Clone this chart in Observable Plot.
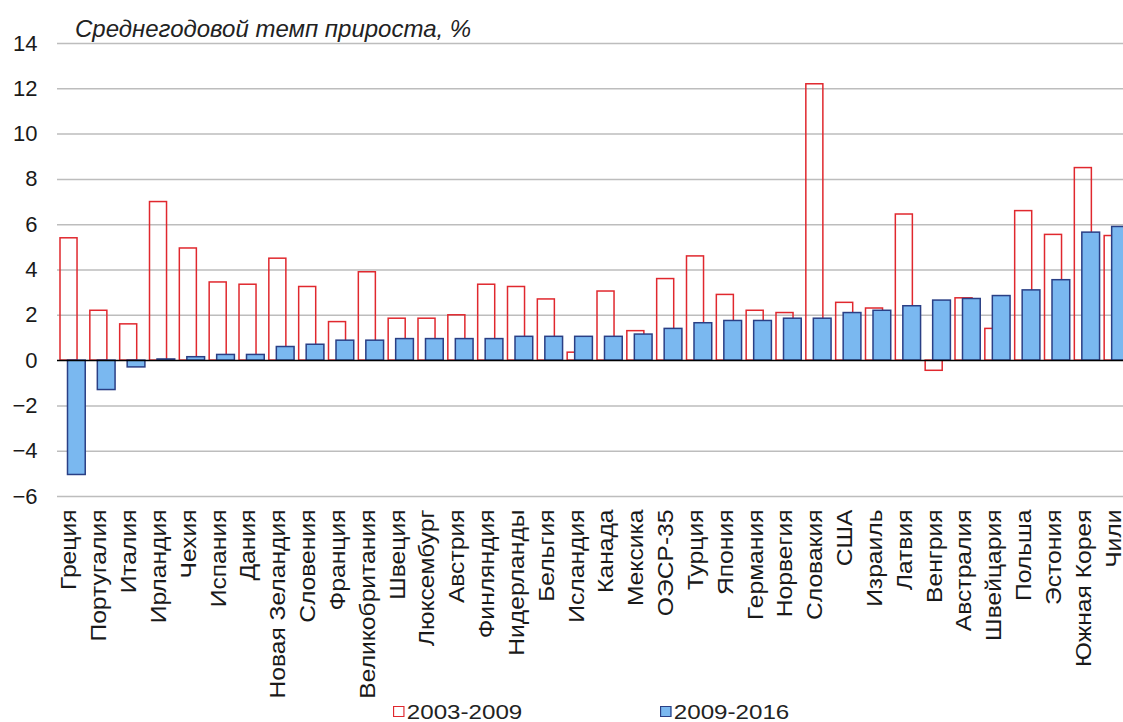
<!DOCTYPE html>
<html><head><meta charset="utf-8">
<script src="https://cdn.jsdelivr.net/npm/d3@7"></script>
<script src="https://cdn.jsdelivr.net/npm/@observablehq/plot@0.6"></script>
<style>
body{margin:0;background:#fff;font-family:"Liberation Sans",Arial,sans-serif;}
#wrap{position:relative;width:1123px;height:722px;overflow:hidden;background:#fff;}
#title{position:absolute;left:75px;top:15px;font-style:italic;font-size:24px;color:#222;white-space:nowrap;}
.leg{position:absolute;top:701px;font-size:21px;line-height:21px;color:#222;display:flex;align-items:center;white-space:nowrap;transform:scaleX(1.15);transform-origin:left center;}
.sw{display:inline-block;width:10px;height:11px;margin-right:2px;box-sizing:border-box;}
</style></head><body>
<div id="wrap">
<div id="chart"></div>
<div id="title">Среднегодовой темп прироста, %</div>
<div class="leg" style="left:393px"><span class="sw" style="border:1.5px solid #e0282e;background:#fff"></span>2003-2009</div>
<div class="leg" style="left:660px"><span class="sw" style="border:1.5px solid #2a3f85;background:#7ab8f0"></span>2009-2016</div>
</div>
<script>
const countries = ["Греция","Португалия","Италия","Ирландия","Чехия","Испания","Дания","Новая Зеландия","Словения","Франция","Великобритания","Швеция","Люксембург","Австрия","Финляндия","Нидерланды","Бельгия","Исландия","Канада","Мексика","ОЭСР-35","Турция","Япония","Германия","Норвегия","Словакия","США","Израиль","Латвия","Венгрия","Австралия","Швейцария","Польша","Эстония","Южная Корея","Чили"];
const series = ["2003-2009","2009-2016"];
const v0309 = [5.4,2.2,1.6,7.0,4.95,3.45,3.35,4.5,3.25,1.7,3.9,1.85,1.85,2.0,3.35,3.25,2.7,0.35,3.05,1.3,3.6,4.6,2.9,2.2,2.1,12.2,2.55,2.3,6.45,-0.45,2.75,1.4,6.6,5.55,8.5,5.5];
const v0916 = [-5.05,-1.3,-0.3,0.05,0.15,0.25,0.25,0.6,0.7,0.88,0.88,0.95,0.95,0.95,0.95,1.05,1.05,1.05,1.05,1.15,1.4,1.65,1.75,1.75,1.85,1.85,2.1,2.2,2.4,2.65,2.72,2.85,3.1,3.55,5.65,5.9];
const yTicks = [-6,-4,-2,0,2,4,6,8,10,12,14];

const data = countries.map((c,i)=>({country:c, a:v0309[i], b:v0916[i]}));

const chart = Plot.plot({
  width:1123, height:690,
  marginLeft:57, marginRight:0, marginTop:43, marginBottom:194,
  x:{domain:countries, range:[57,1131], padding:0, round:false, label:null},
  y:{domain:[-6,14], label:null},
  style:{fontFamily:"'Liberation Sans', Arial, sans-serif", fontSize:"22px", color:"#1a1a1a", background:"transparent", overflow:"visible"},
  marks:[
    Plot.ruleY(yTicks.filter(d=>d!==0), {stroke:"#bdbdbd", strokeWidth:1.5}),
    Plot.barY(data,{x:"country", y:"a", fill:"none", stroke:"#e0282e", strokeWidth:1.5, insetLeft:3, insetRight:9.8}),
    Plot.barY(data,{x:"country", y:"b", fill:"#7ab8f0", stroke:"#2a3f85", strokeWidth:1.5, insetLeft:10.5, insetRight:1.6}),
    Plot.ruleY([0],{stroke:"#000", strokeWidth:1.5}),
    Plot.axisY({ticks:yTicks, tickSize:0, tickPadding:20, label:null, fontSize:22}),
    Plot.axisX({tickSize:0, tickPadding:13, tickRotate:-90, label:null, fontSize:22, dx:-3})
  ]
});
document.getElementById("chart").appendChild(chart);
d3.select(chart).selectAll('g[aria-label="x-axis tick label"] text').each(function(){
  const t = this.getAttribute("transform") || "";
  this.setAttribute("transform", t + " scale(1.12,1)");
});
</script>
</body></html>
